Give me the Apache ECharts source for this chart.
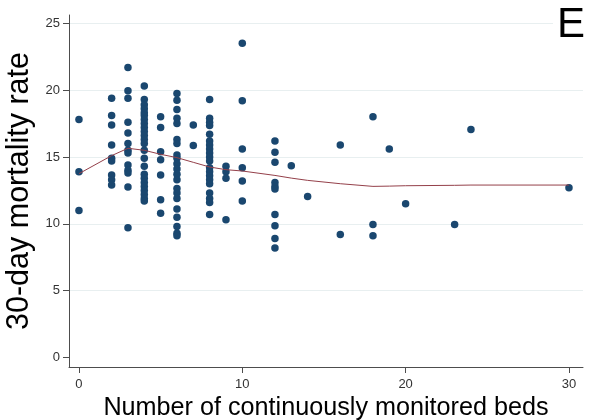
<!DOCTYPE html>
<html>
<head>
<meta charset="utf-8">
<title>30-day mortality vs continuously monitored beds</title>
<script src="https://cdn.jsdelivr.net/npm/echarts@6/dist/echarts.min.js"></script>
<style>
  html, body { margin: 0; padding: 0; background: #fff; }
  #chart { width: 589px; height: 420px; }
</style>
</head>
<body>
<div id="chart"></div>
<script>
// Number of continuously monitored beds (one entry per group of hospitals)
const bedGroups = [0, 2, 3, 4, 5, 6, 7, 8, 9, 10, 12, 13, 14, 16, 18, 19, 20, 23, 24, 30];

// 30-day mortality rate of each hospital, grouped by bed count above
const mortalityByBeds = [
  [17.8, 13.9, 11.0],
  [19.4, 18.1, 17.4, 15.9, 14.9, 14.7, 13.65, 13.3, 12.9],
  [21.7, 19.95, 19.4, 17.6, 16.8, 16.0, 15.5, 15.3, 14.4, 14.0, 13.8, 12.75, 9.7],
  [20.3, 19.3, 18.9, 18.6, 18.3, 18.1, 17.8, 17.5, 17.2, 16.9, 16.6, 16.3, 16.0, 15.5, 14.9, 14.3, 13.7, 13.4, 13.1, 12.8, 12.5, 12.2, 11.9, 11.7],
  [18.0, 17.2, 15.4, 14.8, 13.65, 11.8, 10.8],
  [19.75, 19.25, 18.55, 17.9, 17.5, 16.3, 16.0, 15.15, 14.9, 14.5, 14.1, 13.7, 13.3, 12.65, 12.3, 11.9, 11.1, 10.5, 9.8, 9.3, 9.1],
  [17.4, 15.85],
  [19.3, 17.9, 17.6, 17.35, 16.7, 16.2, 15.9, 15.6, 15.3, 15.0, 14.7, 14.2, 13.9, 13.6, 13.3, 13.0, 12.3, 11.9, 11.6, 10.7],
  [14.3, 13.9, 13.4, 10.3],
  [23.5, 19.2, 15.6, 14.2, 13.2, 11.7],
  [16.2, 15.35, 14.6, 13.1, 12.8, 12.6, 10.7, 9.85, 8.9, 8.2],
  [14.35],
  [12.05],
  [15.9, 9.2],
  [18.0, 9.95, 9.1],
  [15.6],
  [11.5],
  [9.95],
  [17.05],
  [12.7]
];

// Lowess smooth of mortality on bed count, evaluated at each bed count
const smoothBeds = [0, 2, 3, 4, 5, 6, 7, 8, 9, 10, 12, 13, 14, 16, 18, 19, 20, 23, 24, 30];
const smoothRate = [13.75, 15.1, 15.65, 15.5, 15.2, 14.95, 14.6, 14.25, 14.05, 13.95, 13.62, 13.42, 13.25, 13.0, 12.8, 12.82, 12.85, 12.88, 12.9, 12.9];

// Tick labels
const xTicks = [0, 10, 20, 30];
const yTicks = [0, 5, 10, 15, 20, 25];

const scatterData = [];
bedGroups.forEach(function (beds, i) {
  mortalityByBeds[i].forEach(function (rate) { scatterData.push([beds, rate]); });
});
const smoothData = smoothBeds.map(function (b, i) { return [b, smoothRate[i]]; });

const axisColor = '#4d4d4d';
const gridColor = '#e8eff0';
// no grid line along the zero tick, a faint one at every other tick
const gridColors = yTicks.map(function (v) { return v === 0 ? 'rgba(0,0,0,0)' : gridColor; });

const chart = echarts.init(document.getElementById('chart'), null, { renderer: 'canvas' });

chart.setOption({
  animation: false,
  backgroundColor: '#ffffff',
  textStyle: { fontFamily: 'Liberation Sans, Arial, sans-serif' },
  title: {
    text: 'E',
    left: 553,
    top: 2,
    padding: [2, 4],
    backgroundColor: '#ffffff',
    textStyle: { fontSize: 42, fontWeight: 'normal', color: '#000', fontFamily: 'Liberation Sans, Arial, sans-serif' }
  },
  grid: { left: 69, right: 6, top: 15, bottom: 53, containLabel: false, outerBoundsMode: 'none' },
  xAxis: {
    type: 'value',
    min: -0.61,
    max: 30.86,
    name: 'Number of continuously monitored beds',
    nameLocation: 'middle',
    nameGap: 21,
    nameTextStyle: { fontSize: 25.2, color: '#000', fontFamily: 'Liberation Sans, Arial, sans-serif', verticalAlign: 'top' },
    axisLine: { show: true, onZero: false, lineStyle: { color: axisColor, width: 1 } },
    axisTick: { show: true, length: 6, customValues: xTicks, lineStyle: { color: axisColor } },
    axisLabel: { customValues: xTicks, margin: 11, fontSize: 13, color: '#333' },
    splitLine: { show: false }
  },
  yAxis: {
    type: 'value',
    min: -0.71,
    max: 25.62,
    name: '30-day mortality rate',
    nameLocation: 'middle',
    nameGap: 25,
    nameTextStyle: { fontSize: 30.5, color: '#000', fontFamily: 'Liberation Sans, Arial, sans-serif' },
    axisLine: { show: true, onZero: false, lineStyle: { color: axisColor, width: 1 } },
    axisTick: { show: true, length: 6, customValues: yTicks, lineStyle: { color: axisColor } },
    axisLabel: { customValues: yTicks, margin: 9, fontSize: 13, color: '#333' },
    splitLine: { show: true, lineStyle: { color: gridColors, width: 1 } }
  },
  series: [
    {
      type: 'scatter',
      data: scatterData,
      symbol: 'circle',
      symbolSize: 7.5,
      itemStyle: { color: '#1a476f', opacity: 1 },
      z: 2
    },
    {
      type: 'line',
      data: smoothData,
      showSymbol: false,
      symbol: 'none',
      lineStyle: { color: '#94404a', width: 1 },
      z: 3
    }
  ]
});
</script>
</body>
</html>
